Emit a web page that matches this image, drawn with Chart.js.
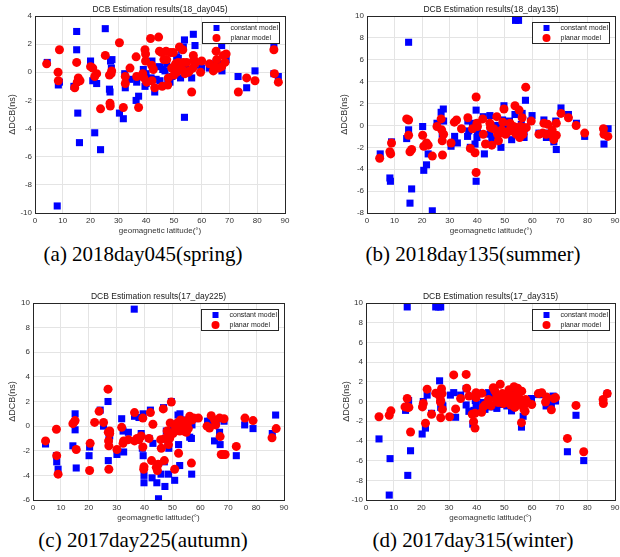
<!DOCTYPE html>
<html>
<head>
<meta charset="utf-8">
<script src="https://cdn.jsdelivr.net/npm/chart.js@4.4.1/dist/chart.umd.min.js"></script>
<style>
  body { margin:0; background:#fff; width:620px; height:557px; position:relative; overflow:hidden; }
  .panel { position:absolute; width:310px; height:240px; }
  .cap { position:absolute; font-family:'Liberation Serif','Times New Roman',serif; font-size:21px;
         color:#000; white-space:nowrap; transform:translate(-50%,-50%); }
</style>
</head>
<body>
<div class="panel" style="left:0;top:0"><canvas id="chA" width="310" height="240"></canvas></div>
<div class="panel" style="left:310px;top:0"><canvas id="chB" width="310" height="240"></canvas></div>
<div class="panel" style="left:0;top:287px"><canvas id="chC" width="310" height="240"></canvas></div>
<div class="panel" style="left:310px;top:287px"><canvas id="chD" width="310" height="240"></canvas></div>
<div class="cap" style="left:143px;top:254px">(a) 2018day045(spring)</div>
<div class="cap" style="left:473px;top:254px">(b) 2018day135(summer)</div>
<div class="cap" style="left:143px;top:540px">(c) 2017day225(autumn)</div>
<div class="cap" style="left:473px;top:540px">(d) 2017day315(winter)</div>

<script>
// ─── Data: [geomagnetic latitude, ΔDCB] ───────────────────
const xTicks = [0, 10, 20, 30, 40, 50, 60, 70, 80, 90];

// (a) 18_day045
const constA = [[4.4,0.7],[8.0,-9.5],[8.4,-0.9],[8.8,-0.7],[14.0,-1.0],[15.0,2.9],[15.0,1.6],[15.4,-2.9],[16.0,-5.0],
  [20.0,0.8],[20.8,-0.6],[21.5,-4.3],[22.2,-0.8],[23.6,-5.5],[25.3,3.1],[26.8,-1.2],[27.0,-1.4],[27.2,0.8],[27.7,0.9],
  [27.5,0.3],[30.4,-2.9],[31.8,-3.3],[32.3,-0.1],[32.5,-1.1],[34.2,-0.5],[36.4,-2.0],[37.3,-1.7],[36.6,-0.7],[39.0,0.2],
  [39.6,-1.0],[40.0,-0.1],[40.0,-0.8],[42.1,0.8],[41.8,-0.4],[43.1,-1.4],[43.6,-0.5],[44.8,0.4],[45.0,-0.6],[46.0,0.2],
  [46.8,0.1],[47.4,0.6],[47.8,-0.5],[48.6,-0.7],[49.3,-0.3],[49.8,1.4],[51.0,1.1],[51.6,1.0],[52.4,-0.4],[52.8,1.6],
  [53.4,1.8],[53.8,-3.2],[53.8,2.3],[54.8,0.2],[56.4,-0.4],[57.0,2.7],[57.6,1.9],[57.6,0.5],[60.0,0.3],[62.8,0.3],
  [64.4,0.6],[66.6,0.6],[67.2,1.9],[67.3,0.1],[68.8,0.9],[73.1,-0.3],[76.2,-1.1],[79.2,0.1],[86.0,1.9],[86.0,-0.1],[87.6,-0.3]];
const planarA = [[4.2,0.6],[8.3,0.0],[8.4,-0.6],[8.8,1.6],[14.3,-1.1],[15.0,0.7],[15.2,-0.7],[15.6,-0.4],[16.2,-0.6],
  [20.0,0.4],[20.8,0.3],[21.5,-0.3],[22.2,-0.1],[23.6,-2.6],[25.3,1.2],[26.8,-0.2],[27.0,-2.2],[27.1,-2.4],[27.6,0.1],
  [27.4,-0.1],[30.4,2.1],[31.8,-2.5],[32.5,-0.3],[32.5,-0.8],[34.2,0.3],[36.4,1.1],[36.6,-0.3],[37.3,-2.5],[38.8,-0.1],
  [39.2,-0.4],[39.6,1.6],[39.8,1.3],[39.8,0.8],[40.2,-0.7],[41.6,2.4],[42.0,0.5],[42.1,-0.6],[42.6,0.2],[43.1,-1.1],
  [44.5,2.5],[44.8,1.5],[45.6,1.4],[45.8,-1.0],[46.4,0.9],[47.2,1.5],[47.4,0.9],[47.8,-0.9],[48.0,-0.4],[48.8,1.4],
  [49.2,0.3],[49.8,1.4],[50.0,-0.2],[50.6,0.6],[51.0,0.0],[51.6,0.7],[52.0,1.8],[52.2,0.4],[52.8,0.2],[53.2,1.6],
  [53.4,0.7],[53.6,0.1],[54.0,-0.1],[54.6,0.7],[55.2,0.0],[55.6,0.1],[56.4,-1.4],[56.8,0.3],[57.0,1.2],[57.2,0.9],
  [57.6,0.6],[59.6,0.0],[60.0,0.8],[62.8,0.6],[64.2,0.1],[64.8,0.4],[65.2,1.5],[65.4,0.9],[66.0,0.3],[67.2,0.4],
  [67.8,1.2],[68.4,0.7],[68.8,1.3],[73.2,-1.4],[76.2,-0.4],[79.2,-0.6],[86.0,1.6],[86.2,-0.1],[87.6,-0.7]];

// (b) 18_day135
const constB = [[4.8,-2.6],[8.3,-4.8],[8.5,-5.1],[8.9,-1.5],[14.4,-1.2],[15.1,7.6],[15.1,-0.4],[15.6,-7.1],[16.2,-5.8],
  [20.2,-0.1],[20.6,-4.1],[21.6,-3.6],[22.2,-2.6],[23.7,-7.8],[25.4,0.2],[26.9,1.2],[27.3,-0.8],[27.7,1.5],[27.8,0.4],
  [30.5,-1.9],[31.8,-1.0],[32.8,-1.6],[36.5,-1.0],[36.6,0.4],[36.9,-0.5],[37.5,-2.0],[38.3,0.2],[39.2,-1.7],[39.6,1.4],
  [39.6,-5.1],[40.1,-0.6],[39.9,-1.1],[42.2,0.8],[42.6,-2.6],[44.6,0.9],[44.6,-0.8],[45.3,-1.2],[46.2,-0.1],[47.4,0.0],
  [48.0,-0.1],[48.6,-2.0],[48.9,-0.7],[49.2,0.5],[49.7,1.8],[50.7,-0.3],[51.7,0.4],[52.5,-1.3],[53.1,-0.1],[53.7,1.0],
  [53.9,9.6],[55.0,9.6],[54.9,-0.3],[56.0,0.1],[56.3,1.1],[57.0,-1.1],[57.5,2.3],[57.0,-0.5],[59.9,0.9],[59.4,0.4],
  [62.4,-0.7],[64.2,0.5],[64.7,-0.7],[65.1,-1.1],[66.6,-1.0],[67.2,-0.7],[67.8,-1.5],[68.7,-2.2],[68.5,0.4],[70.4,1.6],
  [73.1,1.0],[76.0,0.2],[79.0,-1.0],[86.0,-1.7],[86.0,-0.5],[87.5,-0.3]];
const planarB = [[4.6,-3.0],[8.3,-2.4],[8.6,-2.6],[8.9,-1.6],[14.4,0.6],[15.1,0.5],[15.1,-0.9],[15.6,-2.4],[16.2,-2.2],
  [20.2,-0.9],[20.6,-1.9],[21.6,-1.6],[22.2,-1.8],[23.7,-2.8],[25.4,-0.1],[26.9,0.6],[27.1,-0.4],[27.3,-1.4],[27.4,-2.7],
  [27.8,-0.8],[30.5,-1.6],[31.7,0.3],[32.5,0.5],[34.3,-0.3],[36.6,0.7],[37.5,-2.1],[38.3,-0.3],[39.2,-2.5],[39.6,2.6],
  [39.6,-4.3],[39.9,0.2],[40.1,-0.1],[42.0,0.6],[42.2,-0.8],[43.0,-1.7],[44.6,0.2],[44.8,-0.2],[45.3,-1.8],[46.0,-0.3],
  [47.1,0.8],[47.4,-0.8],[47.7,-1.4],[48.1,-0.7],[48.9,-0.4],[49.3,0.3],[49.7,1.5],[50.3,-0.8],[51.0,-0.6],[51.9,0.2],
  [52.2,-0.2],[52.7,-0.5],[53.2,-0.1],[53.7,1.8],[53.9,-0.7],[54.3,-0.8],[54.9,-0.5],[55.2,1.4],[55.4,-1.1],[55.7,-0.1],
  [56.3,0.7],[56.6,-0.8],[57.2,-0.2],[57.6,3.5],[57.8,-0.2],[59.6,0.4],[62.4,-0.8],[63.8,-0.7],[64.2,0.2],[65.0,-0.8],
  [65.6,0.1],[66.8,-0.8],[67.2,-0.4],[67.8,-1.3],[68.7,0.2],[68.7,-0.9],[70.4,1.1],[73.1,0.7],[75.9,0.0],[79.0,-0.7],
  [85.8,-0.3],[86.0,-0.8],[87.4,-1.0]];

// (c) 17_day225
const constC = [[4.5,-1.45],[8.4,-2.4],[8.5,-2.9],[9.0,-3.5],[14.3,-1.6],[15.1,1.0],[15.1,-0.3],[15.5,-3.4],[20.3,-1.7],
  [20.1,-2.4],[24.1,1.3],[25.3,0.0],[26.9,2.0],[27.2,-1.1],[27.0,-2.8],[27.5,-0.8],[30.1,-2.3],[31.8,0.6],[32.3,-0.4],
  [32.5,-2.1],[34.2,-0.5],[36.3,9.5],[36.4,0.8],[38.0,0.7],[38.8,-0.6],[39.2,-1.8],[39.5,1.0],[39.5,-2.4],[39.8,-4.0],
  [39.8,-4.6],[41.6,-1.0],[42.1,1.3],[42.7,-4.2],[43.0,-1.4],[44.4,-4.6],[45.0,-5.9],[45.9,-3.9],[46.8,1.5],[47.1,-2.9],
  [47.3,-4.9],[47.8,-0.4],[48.4,-1.4],[48.6,-3.9],[48.7,-1.8],[49.6,2.0],[50.2,-0.1],[50.8,-4.4],[51.6,0.2],[52.0,0.9],
  [52.2,-1.5],[52.6,-3.2],[52.7,1.0],[53.2,-0.4],[53.5,0.5],[54.4,0.1],[55.0,-0.2],[56.2,-0.9],[56.8,-1.0],[56.9,-3.9],
  [57.0,0.1],[57.7,0.6],[62.6,0.4],[63.3,0.4],[65.1,-1.2],[65.5,0.1],[65.7,0.4],[66.9,-0.5],[67.1,-1.5],[68.5,0.4],
  [72.9,-2.4],[75.9,0.1],[78.9,-0.2],[85.8,-0.6],[87.0,0.9]];
const planarC = [[4.5,-1.2],[8.4,-0.25],[8.5,-2.4],[9.0,-3.9],[14.3,0.2],[14.8,0.35],[15.1,0.45],[15.5,-1.9],[20.3,-3.6],
  [20.5,-1.4],[22.1,0.3],[23.7,1.2],[25.3,0.3],[26.9,3.0],[27.0,-0.5],[27.1,-1.2],[27.2,-1.6],[27.5,-0.4],[27.2,-3.5],
  [27.5,-0.6],[30.1,-1.9],[31.8,-0.1],[32.3,-1.4],[32.5,-1.2],[34.2,-1.1],[36.4,1.1],[36.4,-1.2],[37.3,-1.0],[38.0,-1.1],
  [38.8,-0.8],[39.4,0.65],[39.4,-1.7],[39.8,-3.3],[39.7,-3.5],[41.6,-1.0],[42.1,1.1],[42.5,-2.8],[43.0,0.15],[44.2,-3.35],
  [44.6,-3.6],[44.9,-3.1],[45.8,-1.1],[46.0,-1.8],[46.7,1.4],[47.1,-2.8],[47.3,-1.0],[48.1,-0.4],[48.6,-1.5],[49.0,-1.0],
  [49.2,0.25],[49.6,1.95],[50.2,-0.6],[50.8,-3.5],[51.1,-0.15],[51.6,-0.2],[52.0,0.3],[52.2,-2.2],[52.3,0.1],[52.6,-0.4],
  [52.9,0.5],[53.2,0.0],[53.5,-0.2],[53.8,0.25],[54.1,-0.4],[54.4,0.4],[54.7,0.0],[55.0,-0.5],[55.3,0.15],[55.7,-0.2],
  [56.2,0.8],[56.8,-3.0],[57.0,0.5],[57.6,0.65],[59.3,0.65],[62.4,0.0],[63.3,-0.15],[63.9,0.85],[65.1,0.5],[65.5,0.1],
  [66.9,0.65],[67.1,-0.85],[67.5,-2.3],[68.1,-2.3],[68.9,-2.3],[68.5,0.6],[72.9,-1.65],[76.0,0.65],[78.9,0.45],
  [85.7,-0.95],[87.2,-0.2]];

// (d) 17_day315
const constD = [[4.7,-3.8],[8.4,-9.5],[8.7,-5.8],[14.3,-0.9],[14.9,9.6],[15.1,-7.5],[15.4,0.1],[16.1,-5.0],[20.3,-3.3],
  [20.7,0.0],[21.5,-2.7],[22.1,0.65],[23.7,-1.2],[25.2,9.6],[26.2,9.6],[27.0,9.6],[26.6,2.1],[27.0,-0.6],[27.5,-0.35],
  [27.8,-0.45],[30.5,0.65],[31.7,0.9],[32.4,-1.6],[34.2,0.65],[36.2,-0.35],[36.2,1.3],[37.2,-1.0],[38.6,-2.3],[39.0,-0.9],
  [39.5,0.1],[39.8,-0.3],[39.5,0.7],[41.2,-1.0],[42.2,-0.1],[43.0,-0.8],[44.3,0.9],[45.2,-0.55],[45.8,0.4],[46.6,1.4],
  [47.3,-0.7],[47.9,0.2],[48.5,-0.3],[49.3,0.4],[50.3,0.05],[50.9,-0.45],[51.7,-0.3],[52.3,0.7],[52.6,-0.95],[53.3,-0.1],
  [53.8,0.7],[54.4,0.4],[55.0,0.05],[55.4,-0.3],[56.2,-2.6],[56.8,-1.5],[57.5,-0.2],[58.3,0.1],[59.8,0.3],[62.3,0.7],
  [63.7,0.7],[65.1,-0.45],[65.8,0.1],[67.0,-0.35],[67.6,0.55],[68.5,0.05],[72.8,-5.1],[75.9,-1.4],[78.7,-6.0],
  [85.8,0.05],[87.2,0.8]];
const planarD = [[4.7,-1.55],[8.4,-1.4],[9.0,-0.95],[14.1,-0.55],[14.9,0.3],[15.1,-0.6],[15.5,-0.6],[16.1,-3.1],[20.4,-0.55],
  [20.7,-0.2],[21.5,-2.2],[22.1,1.25],[23.7,-1.3],[25.2,0.85],[26.6,0.55],[27.0,0.1],[26.9,-0.05],[27.0,-1.65],[27.3,1.3],
  [27.5,0.8],[27.6,-0.8],[30.2,-1.55],[31.7,2.7],[32.4,-0.75],[34.2,0.3],[36.2,2.75],[36.4,1.35],[37.2,0.55],[38.4,-1.3],
  [38.9,-2.05],[39.4,-2.7],[39.4,-1.2],[39.8,0.9],[39.8,0.4],[41.8,-1.1],[41.9,0.85],[42.4,-0.55],[43.0,-0.35],[44.3,0.2],
  [45.2,-0.45],[46.0,1.4],[46.6,1.05],[47.0,0.2],[47.3,0.6],[47.8,-0.1],[48.2,0.4],[48.5,1.75],[49.0,0.05],[49.3,0.8],
  [49.6,-0.2],[49.9,0.2],[50.5,0.45],[51.1,-0.1],[51.7,1.2],[52.0,0.4],[52.3,-0.35],[52.7,0.55],[53.2,0.1],[53.5,1.5],
  [53.8,-0.6],[54.2,0.7],[54.8,1.35],[55.0,0.05],[55.3,0.4],[55.7,-0.3],[56.2,-2.15],[56.3,1.05],[57.1,-0.8],[57.5,-1.0],
  [57.7,0.2],[58.3,-0.1],[59.9,-0.3],[62.3,0.8],[63.5,0.9],[64.9,-0.05],[65.3,0.45],[67.0,-0.85],[67.9,0.3],[68.5,0.4],
  [72.8,-3.75],[75.9,-0.4],[78.7,-5.1],[85.7,0.2],[85.8,-0.2],[87.2,0.8]];

const FONT = "'Liberation Sans', Arial, sans-serif";

// ─── Plugin: título, moldura e legenda dentro do gráfico ──
const framePlugin = {
  id: 'frame',
  afterDraw(chart, args, opts) {
    const { ctx, chartArea: a } = chart;
    ctx.save();
    // moldura
    ctx.strokeStyle = '#262626';
    ctx.lineWidth = 1;
    ctx.strokeRect(Math.round(a.left) + 0.5, Math.round(a.top) + 0.5,
                   Math.round(a.right - a.left), Math.round(a.bottom - a.top));
    // título
    ctx.fillStyle = '#1a1a1a';
    ctx.font = `8.5px ${FONT}`;
    ctx.textAlign = 'center';
    ctx.textBaseline = 'middle';
    ctx.fillText(opts.title, (a.left + a.right) / 2, a.top - 6);
    // legenda
    const w = 77, h = 21;
    const x0 = Math.round(a.right - 6 - w) + 0.5, y0 = Math.round(a.top + 6) + 0.5;
    ctx.fillStyle = '#fff';
    ctx.fillRect(x0, y0, w, h);
    ctx.strokeStyle = '#262626';
    ctx.strokeRect(x0, y0, w, h);
    ctx.fillStyle = '#0000ff';
    ctx.fillRect(x0 + 11, y0 + 2.5, 6, 6);
    ctx.fillStyle = '#ff0000';
    ctx.beginPath();
    ctx.arc(x0 + 14, y0 + 15.5, 4, 0, Math.PI * 2);
    ctx.fill();
    ctx.fillStyle = '#1a1a1a';
    ctx.font = `7px ${FONT}`;
    ctx.textAlign = 'left';
    ctx.fillText('constant model', x0 + 28, y0 + 5.5);
    ctx.fillText('planar model', x0 + 28, y0 + 15.5);
    ctx.restore();
  }
};

const toPts = arr => arr.map(([x, y]) => ({ x, y }));

function renderPanel(p) {
  new Chart(document.getElementById(p.id), {
    type: 'scatter',
    data: {
      datasets: [
        { label: 'constant model', data: toPts(p.cons), pointStyle: 'rect', pointRadius: 5,
          backgroundColor: '#0000ff', borderWidth: 0, order: 2 },
        { label: 'planar model', data: toPts(p.plan), pointStyle: 'circle', pointRadius: 4.5,
          backgroundColor: '#ff0000', borderWidth: 0, order: 1 },
      ],
    },
    options: {
      responsive: false, animation: false, events: [],
      layout: { padding: { top: 16, left: p.padL, right: p.padR, bottom: 0 } },
      scales: {
        x: {
          type: 'linear', min: 0, max: 90,
          afterBuildTicks: s => { s.ticks = xTicks.map(v => ({ value: v })); },
          afterFit: s => { s.height = 27; s.paddingLeft = 0; s.paddingRight = 0; },
          grid: { color: '#e4e4e4', drawTicks: false },
          border: { display: false },
          ticks: { color: '#333', font: { family: FONT, size: 8 }, padding: 3, maxRotation: 0, autoSkip: false },
          title: { display: true, text: 'geomagnetic latitude(°)', color: '#333',
                   font: { family: FONT, size: 8 }, padding: { top: 2, bottom: 4 } },
        },
        y: {
          min: p.yMin, max: p.yMax,
          afterBuildTicks: s => { s.ticks = p.yTicks.map(v => ({ value: v })); },
          afterFit: s => { s.width = p.yW; },
          grid: { color: '#e4e4e4', drawTicks: false },
          border: { display: false },
          ticks: { color: '#333', font: { family: FONT, size: 8 }, padding: 3, autoSkip: false },
          title: { display: true, text: 'ΔDCB(ns)', color: '#333',
                   font: { family: FONT, size: 9 }, padding: { top: 7, bottom: 2 } },
        },
      },
      plugins: {
        legend: { display: false },
        tooltip: { enabled: false },
        frame: { title: p.title },
      },
    },
    plugins: [framePlugin],
  });
}

const range = (a, b, s) => { const r = []; for (let v = a; v <= b; v += s) r.push(v); return r; };

renderPanel({ id: 'chA', title: 'DCB Estimation results(18_day045)', cons: constA, plan: planarA,
  yMin: -10, yMax: 4, yTicks: range(-10, 4, 2), padL: 0, padR: 25, yW: 35 });
renderPanel({ id: 'chB', title: 'DCB Estimation results(18_day135)', cons: constB, plan: planarB,
  yMin: -8, yMax: 10, yTicks: range(-8, 10, 2), padL: 22, padR: 2, yW: 35 });
renderPanel({ id: 'chC', title: 'DCB Estimation results(17_day225)', cons: constC, plan: planarC,
  yMin: -6, yMax: 10, yTicks: range(-6, 10, 2), padL: 0, padR: 26, yW: 33 });
renderPanel({ id: 'chD', title: 'DCB Estimation results(17_day315)', cons: constD, plan: planarD,
  yMin: -10, yMax: 10, yTicks: range(-10, 10, 2), padL: 24, padR: 3, yW: 32 });
</script>
</body>
</html>
